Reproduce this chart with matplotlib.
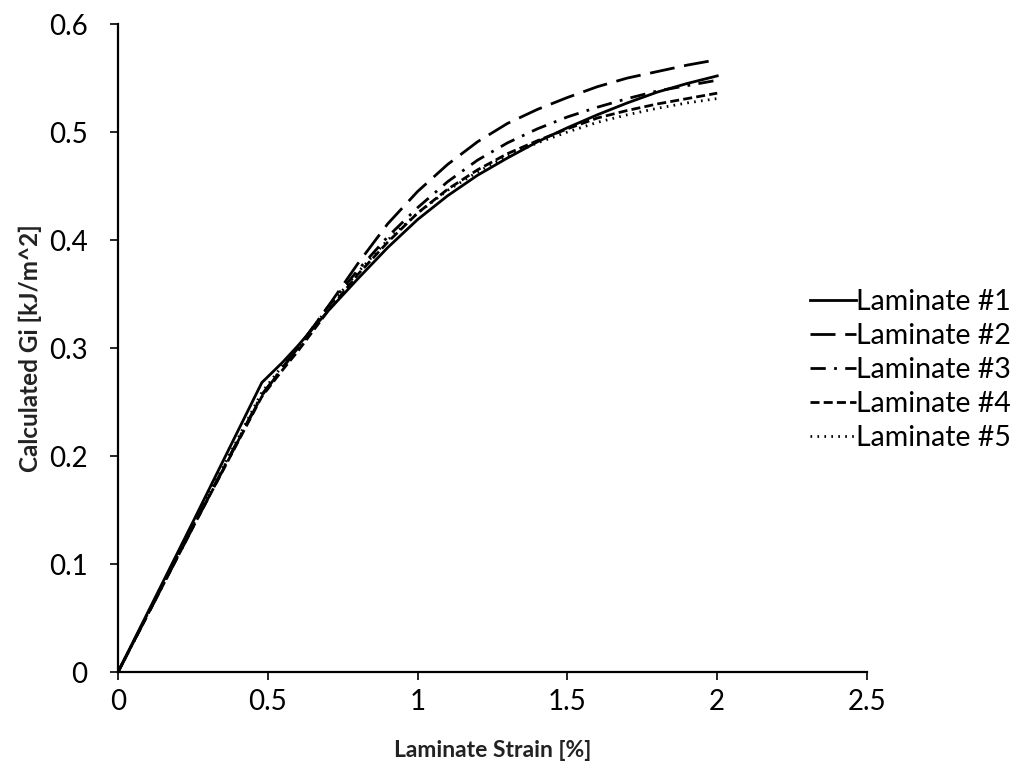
import matplotlib
matplotlib.use("Agg")
import matplotlib.pyplot as plt

plt.rcParams['font.family'] = ['Lato', 'DejaVu Sans']
plt.rcParams['lines.scale_dashes'] = False

# strain [%] and calculated Gi [kJ/m^2]
strain = [0.0, 0.25, 0.48, 0.55, 0.6, 0.7, 0.8, 0.9, 1.0, 1.1, 1.2,
          1.3, 1.4, 1.5, 1.6, 1.7, 1.8, 1.9, 2.0]

lam1 = [0.0, 0.139, 0.268, 0.287, 0.302, 0.334, 0.364, 0.393, 0.419, 0.441, 0.460,
        0.476, 0.491, 0.504, 0.516, 0.527, 0.537, 0.545, 0.552]
lam2 = [0.0, 0.134, 0.256, 0.282, 0.300, 0.338, 0.378, 0.415, 0.445, 0.470, 0.491,
        0.508, 0.521, 0.532, 0.542, 0.550, 0.556, 0.562, 0.567]
lam3 = [0.0, 0.135, 0.257, 0.282, 0.300, 0.338, 0.372, 0.403, 0.430, 0.454, 0.474,
        0.490, 0.503, 0.514, 0.523, 0.531, 0.538, 0.543, 0.548]
lam4 = [0.0, 0.134, 0.255, 0.280, 0.297, 0.334, 0.368, 0.398, 0.425, 0.447, 0.465,
        0.480, 0.492, 0.503, 0.513, 0.520, 0.526, 0.531, 0.536]
lam5 = [0.0, 0.136, 0.259, 0.284, 0.300, 0.337, 0.370, 0.400, 0.425, 0.446, 0.463,
        0.478, 0.490, 0.500, 0.509, 0.516, 0.522, 0.527, 0.531]

labels = ['Laminate #1', 'Laminate #2', 'Laminate #3', 'Laminate #4', 'Laminate #5']
styles = ['-', (0, (18, 7)), (0, (11, 6, 2, 6)), (0, (6.5, 3)), (0, (1.2, 3.8))]

fig = plt.figure(figsize=(10.21, 7.76), dpi=100)
ax = fig.add_axes([0.1156, 0.134, 0.7336, 0.835])

for y, lab, ls in zip([lam1, lam2, lam3, lam4, lam5], labels, styles):
    ax.plot(strain, y, color='black', lw=2.0, linestyle=ls, label=lab)

ax.set_xlim(0, 2.5)
ax.set_ylim(0, 0.6)
ax.set_xticks([0, 0.5, 1, 1.5, 2, 2.5])
ax.set_xticklabels(['0', '0.5', '1', '1.5', '2', '2.5'])
ax.set_yticks([0, 0.1, 0.2, 0.3, 0.4, 0.5, 0.6])
ax.set_yticklabels(['0', '0.1', '0.2', '0.3', '0.4', '0.5', '0.6'])
ax.tick_params(labelsize=20, length=6, width=1.2, direction='out', colors='black')
ax.tick_params(axis='y', pad=16)
ax.tick_params(axis='x', pad=6)

for s in ['top', 'right']:
    ax.spines[s].set_visible(False)
for s in ['left', 'bottom']:
    ax.spines[s].set_linewidth(1.6)

ax.set_xlabel('Laminate Strain [%]', fontsize=16.5, fontweight='bold', labelpad=18, color='#222222')
ax.set_ylabel('Calculated Gi [kJ/m^2]', fontsize=17.5, fontweight='bold', labelpad=5, color='#222222')

leg = ax.legend(loc='center left', bbox_to_anchor=(0.89, 0.466), frameon=False,
                fontsize=20.5, handlelength=1.6, handletextpad=0.0,
                labelspacing=0.28)

fig.savefig('out.png', dpi=100)
